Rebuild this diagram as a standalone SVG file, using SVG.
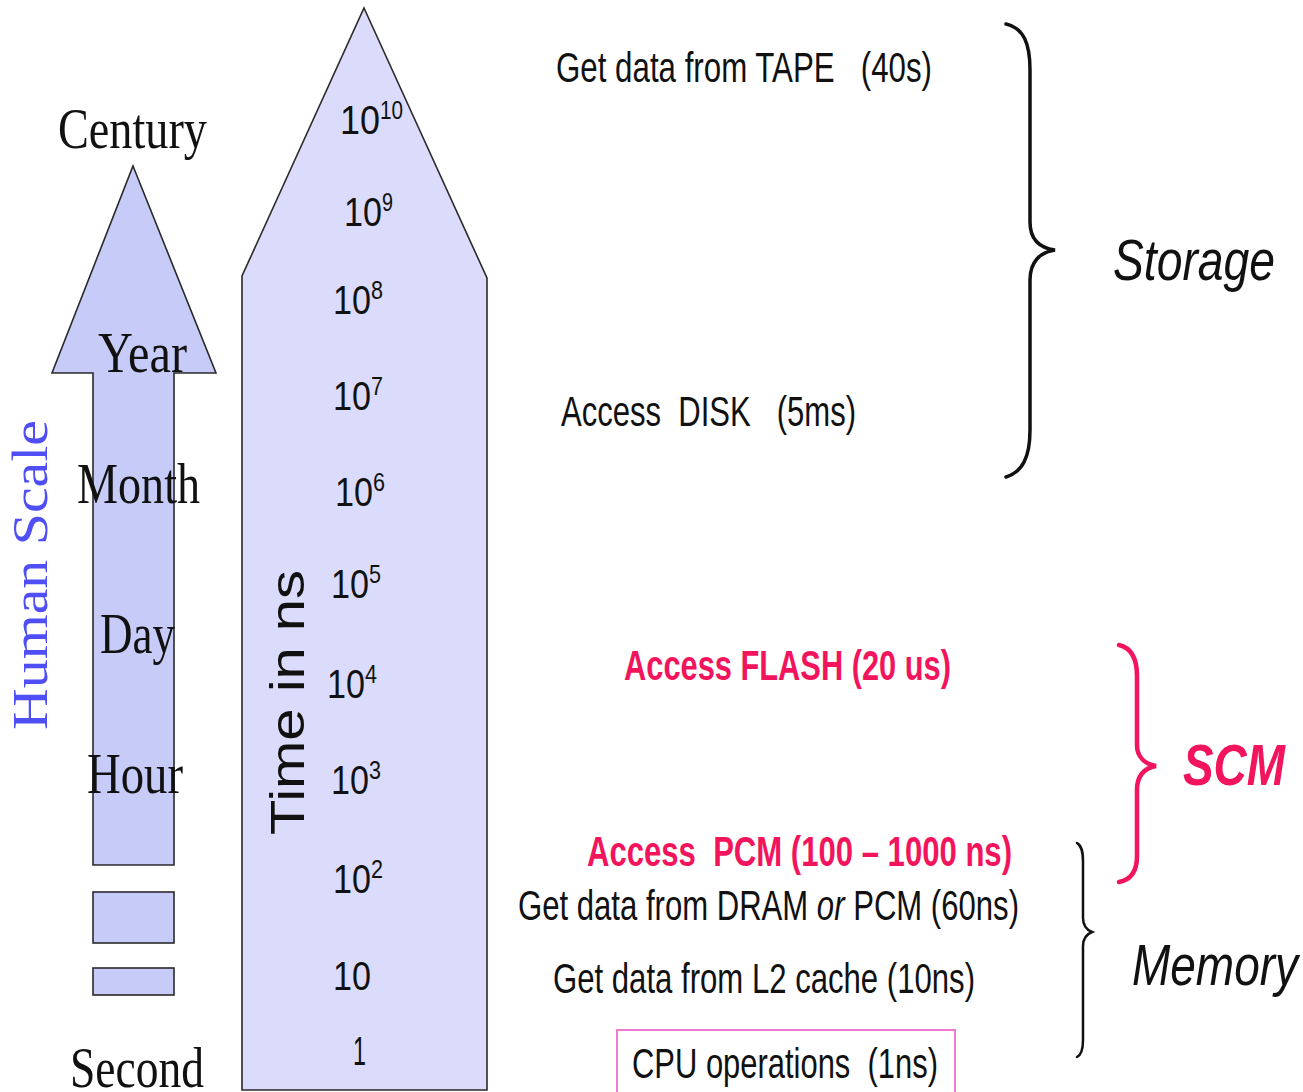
<svg xmlns="http://www.w3.org/2000/svg" width="1303" height="1092" viewBox="0 0 1303 1092">
  <style>
    .sans { font-family: "Liberation Sans", Arial, sans-serif; }
    .serif { font-family: "Liberation Serif", "Times New Roman", serif; }
    .lbl { font-size: 42px; fill: #111; }
    .hot { font-size: 42px; font-weight: bold; fill: #f2145c; }
    .num { font-size: 40px; fill: #111; }
    .sup { font-size: 26px; fill: #111; }
    .human { font-size: 58px; fill: #111; }
    .tier { font-size: 58px; font-style: italic; fill: #111; }
    .shape { stroke: #2a2a2a; stroke-width: 1.6; stroke-linejoin: miter; }
  </style>

  <rect width="1303" height="1092" fill="#ffffff"/>

  <!-- human-scale arrow and the two short bars below it -->
  <g id="human-scale-arrow">
    <polygon class="shape" fill="#c6cbf8" points="133,166 216,373 174,373 174,865 93,865 93,373 52,373"/>
    <rect class="shape" fill="#c6cbf8" x="93" y="892" width="81" height="51"/>
    <rect class="shape" fill="#c6cbf8" x="93" y="968" width="81" height="27"/>
    <text class="serif" transform="translate(47,730) rotate(-90)" font-size="50" fill="#4f4ff5" textLength="310" lengthAdjust="spacingAndGlyphs">Human Scale</text>
  </g>

  <g id="human-scale-labels" class="serif">
    <text class="human" x="58" y="148" textLength="149" lengthAdjust="spacingAndGlyphs">Century</text>
    <text class="human" x="98" y="372" textLength="89" lengthAdjust="spacingAndGlyphs">Year</text>
    <text class="human" x="77" y="503" textLength="123" lengthAdjust="spacingAndGlyphs">Month</text>
    <text class="human" x="100" y="653" textLength="75" lengthAdjust="spacingAndGlyphs">Day</text>
    <text class="human" x="87" y="793" textLength="96" lengthAdjust="spacingAndGlyphs">Hour</text>
    <text class="human" x="70" y="1087" textLength="134" lengthAdjust="spacingAndGlyphs">Second</text>
  </g>

  <!-- nanosecond time-scale arrow with powers of ten -->
  <g id="time-arrow">
    <polygon class="shape" fill="#dbdcfb" points="364,8 487,278 487,1090 242,1090 242,276"/>
    <text class="sans" transform="translate(304,835) rotate(-90)" font-size="48" fill="#111" textLength="265" lengthAdjust="spacingAndGlyphs">Time in ns</text>
  </g>

  <g id="time-scale" class="sans">
    <text class="num" x="340" y="134" textLength="40" lengthAdjust="spacingAndGlyphs">10</text>
    <text class="sup" x="380" y="119" textLength="23" lengthAdjust="spacingAndGlyphs">10</text>
    <text class="num" x="344" y="226" textLength="38" lengthAdjust="spacingAndGlyphs">10</text>
    <text class="sup" x="382" y="211" textLength="11" lengthAdjust="spacingAndGlyphs">9</text>
    <text class="num" x="333" y="314" textLength="38" lengthAdjust="spacingAndGlyphs">10</text>
    <text class="sup" x="371" y="299" textLength="12" lengthAdjust="spacingAndGlyphs">8</text>
    <text class="num" x="333" y="410" textLength="38" lengthAdjust="spacingAndGlyphs">10</text>
    <text class="sup" x="371" y="395" textLength="12" lengthAdjust="spacingAndGlyphs">7</text>
    <text class="num" x="335" y="506" textLength="38" lengthAdjust="spacingAndGlyphs">10</text>
    <text class="sup" x="373" y="491" textLength="12" lengthAdjust="spacingAndGlyphs">6</text>
    <text class="num" x="331" y="598" textLength="38" lengthAdjust="spacingAndGlyphs">10</text>
    <text class="sup" x="369" y="583" textLength="12" lengthAdjust="spacingAndGlyphs">5</text>
    <text class="num" x="327" y="698" textLength="38" lengthAdjust="spacingAndGlyphs">10</text>
    <text class="sup" x="365" y="683" textLength="12" lengthAdjust="spacingAndGlyphs">4</text>
    <text class="num" x="331" y="794" textLength="38" lengthAdjust="spacingAndGlyphs">10</text>
    <text class="sup" x="369" y="779" textLength="12" lengthAdjust="spacingAndGlyphs">3</text>
    <text class="num" x="333" y="893" textLength="38" lengthAdjust="spacingAndGlyphs">10</text>
    <text class="sup" x="371" y="878" textLength="12" lengthAdjust="spacingAndGlyphs">2</text>
    <text class="num" x="333" y="990" textLength="38" lengthAdjust="spacingAndGlyphs">10</text>
    <text class="num" x="353" y="1065" textLength="13" lengthAdjust="spacingAndGlyphs">1</text>
  </g>

  <!-- access latencies -->
  <g id="tape" class="sans">
    <text class="lbl" x="556" y="82" textLength="376" lengthAdjust="spacingAndGlyphs" xml:space="preserve">Get data from TAPE   (40s)</text>
  </g>
  <g id="disk" class="sans">
    <text class="lbl" x="561" y="426" textLength="295" lengthAdjust="spacingAndGlyphs" xml:space="preserve">Access  DISK   (5ms)</text>
  </g>
  <g id="flash" class="sans">
    <text class="hot" x="624" y="680" textLength="327" lengthAdjust="spacingAndGlyphs">Access FLASH (20 us)</text>
  </g>
  <g id="pcm" class="sans">
    <text class="hot" x="587" y="866" textLength="425" lengthAdjust="spacingAndGlyphs" xml:space="preserve">Access  PCM (100 – 1000 ns)</text>
  </g>
  <g id="dram" class="sans">
    <text class="lbl" x="518" y="920" textLength="501" lengthAdjust="spacingAndGlyphs">Get data from DRAM <tspan font-style="italic">or</tspan> PCM (60ns)</text>
  </g>
  <g id="l2" class="sans">
    <text class="lbl" x="553" y="993" textLength="422" lengthAdjust="spacingAndGlyphs">Get data from L2 cache (10ns)</text>
  </g>
  <g id="cpu" class="sans">
    <rect x="617" y="1030" width="338" height="70" fill="none" stroke="#f07ad2" stroke-width="2"/>
    <text class="lbl" x="632" y="1078" textLength="306" lengthAdjust="spacingAndGlyphs" xml:space="preserve">CPU operations  (1ns)</text>
  </g>

  <!-- grouping braces -->
  <g id="braces" fill="none" stroke-linecap="round">
    <path d="M1006,24 C1024,28 1030,44 1030,70 L1030,222 C1030,240 1040,248 1055,250 C1040,252 1030,262 1030,280 L1030,430 C1030,458 1022,472 1006,477" stroke="#111" stroke-width="3.5"/>
    <path d="M1119,645 C1132,648 1137,660 1137,676 L1137,745 C1137,757 1145,764 1156,766 C1145,768 1137,775 1137,790 L1137,856 C1137,872 1130,880 1119,882" stroke="#f2145c" stroke-width="4.5"/>
    <path d="M1077,843 C1082,846 1083,852 1083,862 L1083,918 C1083,926 1087,930 1092,932 C1087,934 1083,938 1083,946 L1083,1040 C1083,1050 1081,1055 1077,1057" stroke="#111" stroke-width="2.5"/>
  </g>

  <g id="storage-label" class="sans">
    <text class="tier" x="1113" y="280" textLength="162" lengthAdjust="spacingAndGlyphs">Storage</text>
  </g>
  <g id="scm-label" class="sans">
    <text class="tier" x="1183" y="785" font-weight="bold" fill="#f2145c" style="fill:#f2145c" textLength="102" lengthAdjust="spacingAndGlyphs">SCM</text>
  </g>
  <g id="memory-label" class="sans">
    <text class="tier" x="1132" y="985" textLength="166" lengthAdjust="spacingAndGlyphs">Memory</text>
  </g>
</svg>
